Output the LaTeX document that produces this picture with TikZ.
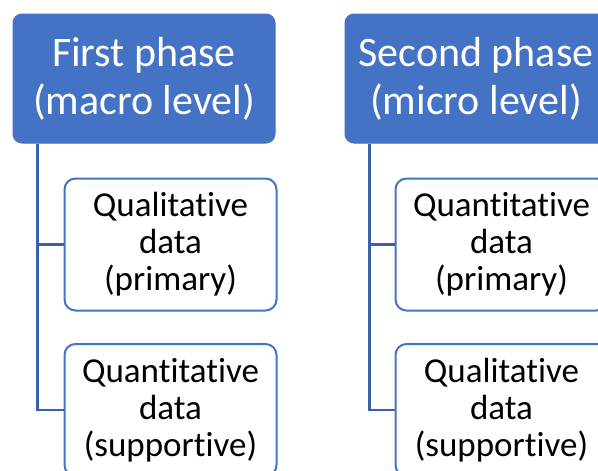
\documentclass[tikz,border=0pt]{standalone}
\usepackage{fontspec}
\setmainfont[Ligatures=NoCommon]{Carlito}
\definecolor{accent}{HTML}{4472C4}
\begin{document}
\begin{tikzpicture}[x=1pt,y=-1pt,
  header/.style={rectangle, rounded corners=9pt, fill=accent, draw=accent, line width=1pt,
    minimum width=262pt, minimum height=129pt, inner sep=0pt, text=white,
    align=center, font=\fontsize{42}{48}\selectfont},
  child/.style={rectangle, rounded corners=11pt, fill=white, draw=accent, line width=2pt,
    minimum width=212pt, minimum height=132pt, inner sep=0pt, text=black,
    align=center, font=\fontsize{35}{37}\selectfont},
  link/.style={draw=accent!85!black, line width=2.4pt}]
\useasboundingbox (0,0) rectangle (598,471);
\clip (0,0) rectangle (598,471);
\node[header] (h1) at (144,78.5) {First phase\\(macro level)};
\node[header] (h2) at (476,78.5) {Second phase\\(micro level)};
\node[child] (a1) at (170.5,244.5) {Qualitative\\data\\(primary)};
\node[child] (a2) at (170.5,410) {Quantitative\\data\\(supportive)};
\node[child] (b1) at (501.5,244.5) {Quantitative\\data\\(primary)};
\node[child] (b2) at (501.5,410) {Qualitative\\data\\(supportive)};
\draw[link] ([xshift=25pt]h1.south west) |- (a1.west);
\draw[link] ([xshift=25pt]h1.south west) |- (a2.west);
\draw[link] ([xshift=25pt]h2.south west) |- (b1.west);
\draw[link] ([xshift=25pt]h2.south west) |- (b2.west);
\end{tikzpicture}
\end{document}
